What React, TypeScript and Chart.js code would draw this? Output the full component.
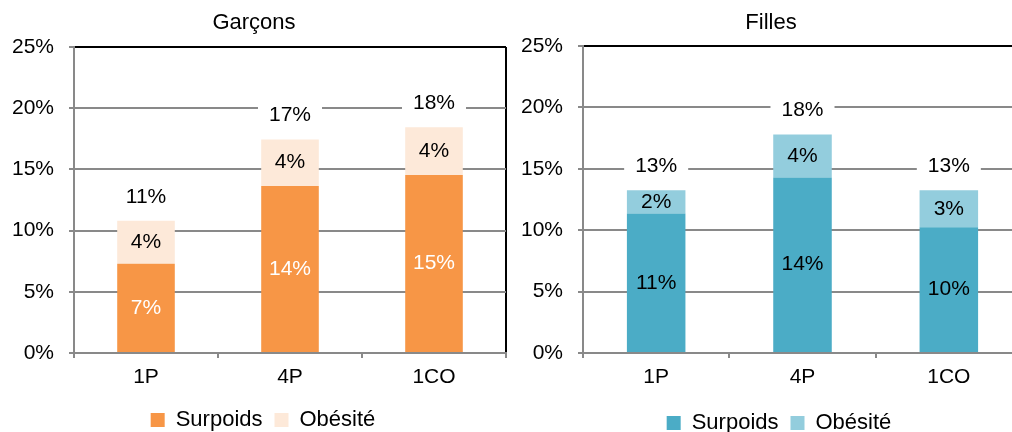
import React, { useEffect, useRef } from 'react';
import { Chart, registerables } from 'chart.js';

Chart.register(...registerables);

// ---- data ----
const categories = ['1P', '4P', '1CO'];
const seriesNames = ['Surpoids', 'Obésité'];
const boysOverweight = [7.3, 13.65, 14.55];
const boysObesity = [3.5, 3.8, 3.9];
const girlsOverweight = [11.35, 14.3, 10.25];
const girlsObesity = [1.9, 3.5, 3.0];
const yTickValues = [0, 5, 10, 15, 20, 25];
const chartTitles = ['Garçons', 'Filles'];

const FONT = "'Liberation Sans', Arial, sans-serif";
const GRAY = '#898989';

const shiftPlugin = {
  id: 'shift',
  afterLayout(chart: any, _args: any, opts: any) {
    const t = chart.titleBlock;
    if (t && opts.title) {
      t.left += opts.title;
      t.right += opts.title;
    }
    const l = chart.legend;
    if (l && opts.legend) {
      l.left += opts.legend;
      l.right += opts.legend;
    }
  },
};

const labelPlugin = {
  id: 'barLabels',
  afterDatasetsDraw(chart: any, _args: any, opts: any) {
    const ctx = chart.ctx;
    ctx.save();
    ctx.font = `${opts.size}px ${FONT}`;
    ctx.textAlign = 'center';
    ctx.textBaseline = 'middle';
    const datasets = chart.data.datasets;
    datasets.forEach((ds: any, di: number) => {
      const meta = chart.getDatasetMeta(di);
      meta.data.forEach((el: any, i: number) => {
        const v = ds.data[i];
        const p = el.getProps(['x', 'y', 'base'], true);
        ctx.fillStyle = ds.labelColor;
        ctx.fillText(Math.round(v) + '%', p.x, (p.y + p.base) / 2);
      });
    });
    const n = chart.data.labels.length;
    for (let i = 0; i < n; i++) {
      let total = 0;
      datasets.forEach((ds: any) => (total += ds.data[i]));
      const topEl = chart.getDatasetMeta(datasets.length - 1).data[i];
      const p = topEl.getProps(['x', 'y'], true);
      const text = Math.round(total) + '%';
      const cy = p.y - opts.offset;
      const w = ctx.measureText(text).width + 2 * opts.padX;
      ctx.fillStyle = '#ffffff';
      ctx.fillRect(p.x - w / 2, cy - 13, w, 26);
      ctx.fillStyle = '#000000';
      ctx.fillText(text, p.x, cy);
    }
    ctx.restore();
  },
};

type PanelProps = {
  title: string;
  s1: number[];
  s2: number[];
  c1: string;
  c2: string;
  lc1: string;
  left: number;
  width: number;
  height: number;
  padRight: number;
  yAxisWidth: number;
  xAxisHeight: number;
  titlePadTop: number;
  titlePadBottom: number;
  titleShift: number;
  legendShift: number;
};

function Panel(p: PanelProps) {
  const ref = useRef<HTMLCanvasElement | null>(null);
  useEffect(() => {
    if (!ref.current) return;
    const chart = new Chart(ref.current, {
      type: 'bar',
      data: {
        labels: categories,
        datasets: [
          { label: seriesNames[0], data: p.s1, backgroundColor: p.c1, borderWidth: 0, labelColor: p.lc1 } as any,
          { label: seriesNames[1], data: p.s2, backgroundColor: p.c2, borderWidth: 0, labelColor: '#000000' } as any,
        ],
      },
      options: {
        animation: false,
        responsive: false,
        layout: { padding: { left: 0, right: p.padRight, top: 0, bottom: 0 } },
        datasets: { bar: { barPercentage: 0.8, categoryPercentage: 0.5 } },
        scales: {
          x: {
            stacked: true,
            offset: true,
            grid: {
              offset: true,
              drawOnChartArea: true,
              color: (c: any) => (c.type === 'tick' ? 'rgba(0,0,0,0)' : '#000000'),
              lineWidth: 2,
              tickColor: GRAY,
              tickWidth: 2,
              tickLength: 5,
            },
            border: { color: GRAY, width: 2 },
            ticks: { font: { family: FONT, size: 21 }, color: '#000000', padding: 7 },
            afterFit: (s: any) => {
              s.height = p.xAxisHeight;
            },
          },
          y: {
            stacked: true,
            min: yTickValues[0],
            max: yTickValues[yTickValues.length - 1],
            ticks: {
              stepSize: yTickValues[1] - yTickValues[0],
              callback: (v: any) => v + '%',
              font: { family: FONT, size: 21 },
              color: '#000000',
              padding: 15,
            },
            grid: {
              color: (c: any) =>
                c.tick && c.tick.value === yTickValues[yTickValues.length - 1] ? '#000000' : GRAY,
              lineWidth: 2,
              tickColor: GRAY,
              tickLength: 5,
            },
            border: { color: GRAY, width: 2 },
            afterFit: (s: any) => {
              s.width = p.yAxisWidth;
            },
          },
        },
        plugins: {
          title: {
            display: true,
            text: p.title,
            font: { family: FONT, size: 22, weight: 'normal' },
            color: '#000000',
            padding: { top: p.titlePadTop, bottom: p.titlePadBottom },
          },
          legend: {
            display: true,
            position: 'bottom',
            labels: {
              font: { family: FONT, size: 22 },
              color: '#000000',
              boxWidth: 14,
              boxHeight: 14,
              padding: 12,
            },
          },
          tooltip: { enabled: false },
          shift: { title: p.titleShift, legend: p.legendShift },
          barLabels: { size: 21, offset: 24, padX: 11 },
        } as any,
      },
      plugins: [shiftPlugin, labelPlugin],
    } as any);
    return () => chart.destroy();
  }, []);
  return (
    <canvas
      ref={ref}
      width={p.width}
      height={p.height}
      style={{ position: 'absolute', left: p.left, top: 0, width: p.width, height: p.height }}
    />
  );
}

export default function App() {
  return (
    <div
      style={{
        position: 'fixed',
        left: 0,
        top: 0,
        width: 1012,
        height: 432,
        overflow: 'hidden',
        background: '#ffffff',
      }}
    >
      <Panel
        title={chartTitles[0]}
        s1={boysOverweight}
        s2={boysObesity}
        c1="#F79646"
        c2="#FDE9D9"
        lc1="#ffffff"
        left={0}
        width={510}
        height={441}
        padRight={4}
        yAxisWidth={74}
        xAxisHeight={44}
        titlePadTop={10}
        titlePadBottom={10.6}
        titleShift={1}
        legendShift={10}
      />
      <Panel
        title={chartTitles[1]}
        s1={girlsOverweight}
        s2={girlsObesity}
        c1="#4BACC6"
        c2="#93CDDD"
        lc1="#000000"
        left={506}
        width={520}
        height={444}
        padRight={4}
        yAxisWidth={77}
        xAxisHeight={47}
        titlePadTop={10}
        titlePadBottom={9.6}
        titleShift={7}
        legendShift={15}
      />
    </div>
  );
}
